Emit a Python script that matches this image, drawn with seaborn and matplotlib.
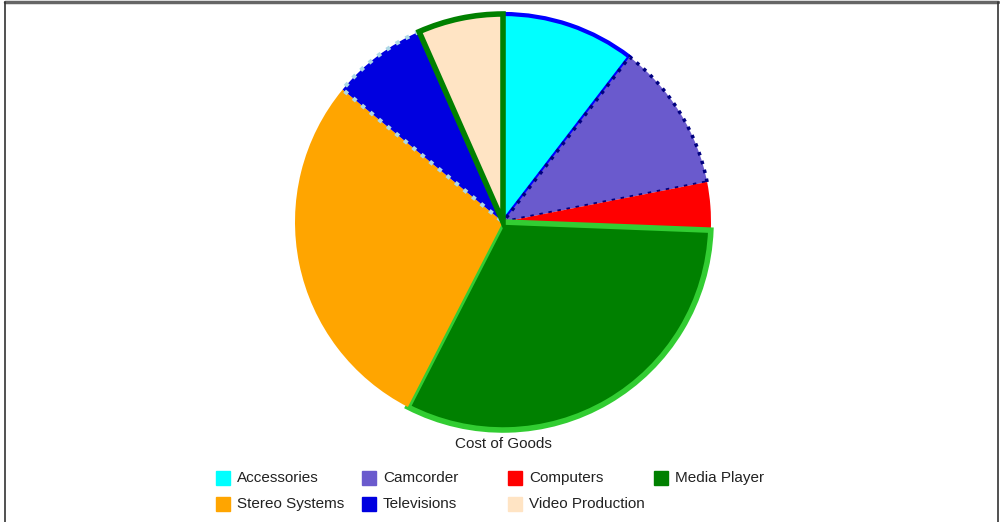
import matplotlib
matplotlib.use("Agg")
import matplotlib.pyplot as plt
from matplotlib.lines import Line2D
import seaborn as sns

sns.set_theme(style="white")
plt.rcParams['font.family'] = ['Liberation Sans', 'DejaVu Sans']

categories = ["Accessories", "Camcorder", "Computers", "Media Player",
              "Stereo Systems", "Televisions", "Video Production"]
values = [10.4, 11.5, 3.7, 31.9, 28.4, 7.4, 6.6]
colors = ["#00FFFF", "#6A5ACD", "#FF0000", "#008000", "#FFA500", "#0000E0", "#FFE4C4"]
edge_colors = ["#0000FF", "#000080", "#FF0000", "#32CD32", "#FFA500", "#ADD8E6", "#008000"]
edge_widths = [3, 2.5, 0, 4, 0, 3, 4]
edge_styles = ["solid", ":", "solid", "solid", "solid", ":", "solid"]
title = "Cost of Goods"

W, H = 1000, 522
fig = plt.figure(figsize=(W / 100, H / 100), dpi=100)
fig.patch.set_facecolor("white")

r = 208
cx, cy = 503, 222
ax = fig.add_axes([(cx - r) / W, (H - cy - r) / H, 2 * r / W, 2 * r / H])
wedges, _ = ax.pie(values, colors=colors, startangle=90, counterclock=False,
                   radius=1, wedgeprops=dict(linewidth=0))
for w, ec, lw, ls in zip(wedges, edge_colors, edge_widths, edge_styles):
    if lw > 0:
        w.set_edgecolor(ec)
        w.set_linewidth(lw)
        w.set_linestyle(ls)
        w.set_joinstyle("miter")
ax.set_xlim(-1.0, 1.0)
ax.set_ylim(-1.0, 1.0)
ax.set_aspect("equal")
ax.axis("off")

fig.text(cx / W, 1 - 444 / H, title, ha="center", va="center",
         fontsize=11, color="#222222")

# legend: 4 columns, row-major, fixed column spacing
col_x = [223, 369, 515, 661]
row_y = [478, 504]
for i, (lab, c) in enumerate(zip(categories, colors)):
    row, col = divmod(i, 4)
    mx, my = col_x[col], row_y[row]
    fig.add_artist(Line2D([mx / W], [1 - my / H], marker="s", markersize=9.4,
                          markerfacecolor=c, markeredgecolor=c, linestyle="none",
                          transform=fig.transFigure))
    fig.text((mx + 14) / W, 1 - my / H, lab, ha="left", va="center",
             fontsize=11, color="#222222")

# frame around chart
fig.add_artist(Line2D([0.005, 0.998], [1 - 2 / H, 1 - 2 / H], color="#666666",
                      linewidth=2.5, transform=fig.transFigure))
fig.add_artist(Line2D([0.005, 0.005], [0, 1 - 2 / H], color="#333333",
                      linewidth=1.2, transform=fig.transFigure))
fig.add_artist(Line2D([0.998, 0.998], [0, 1 - 2 / H], color="#333333",
                      linewidth=1.2, transform=fig.transFigure))

fig.savefig("out.png", dpi=100, facecolor="white")
